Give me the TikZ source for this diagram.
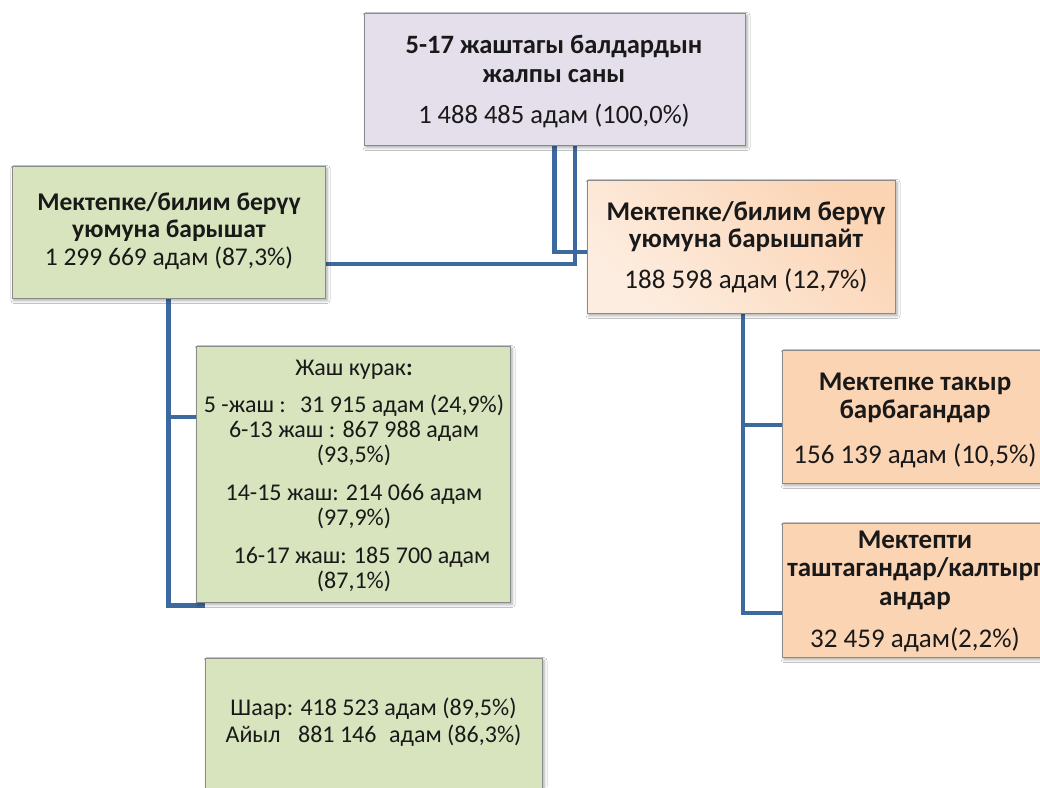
\documentclass[tikz,border=0pt]{standalone}
\usepackage{fontspec}
\setmainfont{Carlito}
\usetikzlibrary{shadows.blur,backgrounds}
\definecolor{lav}{HTML}{E5DFEC}
\definecolor{grn}{HTML}{D7E4BD}
\definecolor{orl}{HTML}{FDEDE0}
\definecolor{ord}{HTML}{FBD4B4}
\definecolor{connc}{HTML}{3D6A9E}
\definecolor{bord}{HTML}{8A8A8A}
\begin{document}
\begin{tikzpicture}[x=1pt,y=-1pt,
 box/.style={draw=bord, line width=0.8pt, inner sep=0pt,
   blur shadow={shadow xshift=2pt,shadow yshift=-2.5pt,shadow blur radius=3pt,shadow opacity=35}},
 connline/.style={draw=connc, line width=4.5pt},
 txt/.style={anchor=base, align=flush center, inner sep=0pt, text width=420pt, text=black!90}
]
\clip (0,0) rectangle (1040,787);
% boxes
\node[box, fill=lav, minimum width=381pt, minimum height=132pt] (top) at (554.5,79) {};
\node[box, fill=grn, minimum width=313pt, minimum height=132pt] (g1) at (168.5,232) {};
\node[box, top color=ord, bottom color=orl, shading angle=-45, minimum width=308pt, minimum height=133pt] (o1) at (741,246.5) {};
\node[box, fill=grn, minimum width=314pt, minimum height=256pt] (g2) at (353,474) {};
\node[box, fill=ord, minimum width=266pt, minimum height=133pt] (o3) at (915,416.5) {};
\node[box, fill=ord, minimum width=266pt, minimum height=134pt] (o4) at (915,590) {};
\node[box, fill=grn, minimum width=337pt, minimum height=160pt] (g3) at (373.5,738) {};
% connectors
\begin{scope}[on background layer]
\fill[white] (0,0) rectangle (1040,787);
\draw[connline] (top.south) |- ([yshift=-5.5pt]o1.west);
\draw[connline] ([xshift=20.5pt]top.south) |- ([yshift=-32pt]g1.east);
\draw[connline] (g1.south) |- ([yshift=57pt]g2.west);
\draw[connline] (g1.south) |- ([xshift=9pt,yshift=-3pt]g2.south west);
\draw[connline] ([xshift=2pt]o1.south) |- ([yshift=-8.5pt]o3.west);
\draw[connline] ([xshift=2pt]o1.south) |- ([yshift=-23pt]o4.west);
\end{scope}
% texts
\node[txt, font=\fontsize{26.5}{29}\selectfont] (t1) at (554,53)
 {\textbf{5-17 жаштагы балдардын}\\\textbf{жалпы саны}\\[12pt]1 488 485 адам (100,0\%)};
\node[txt, font=\fontsize{25.5}{27.5}\selectfont] (t2) at (169,210)
 {\textbf{Мектепке/билим берүү}\\\textbf{уюмуна барышат}\\1 299 669 адам (87,3\%)};
\node[txt, font=\fontsize{27}{27}\selectfont] (t3) at (746,220)
 {\textbf{Мектепке/билим берүү}\\\textbf{уюмуна барышпайт}\\[14pt]188 598 адам (12,7\%)};
\node[txt, font=\fontsize{24}{25}\selectfont] (t4) at (354,375)
 {Жаш курак\textbf{:}\\[12pt]5 -жаш :\hspace{0.6em}31 915 адам (24,9\%)\\6-13 жаш : 867 988 адам\\(93,5\%)\\[13pt]14-15 жаш: 214 066 адам\\(97,9\%)\\[13pt]\hspace{16pt}16-17 жаш: 185 700 адам\\(87,1\%)};
\node[txt, font=\fontsize{27}{28}\selectfont] (t5) at (915,390)
 {\textbf{Мектепке такыр}\\\textbf{барбагандар}\\[17pt]156 139 адам (10,5\%)};
\node[txt, font=\fontsize{27}{28.5}\selectfont] (t6) at (915,548)
 {\textbf{Мектепти}\\\textbf{таштагандар/калтырг}\\\textbf{андар}\\[13.5pt]32 459 адам(2,2\%)};
\node[txt, font=\fontsize{24}{27}\selectfont] (t7) at (373.5,715)
 {Шаар: 418 523 адам (89,5\%)\\Айыл\hspace{0.5em} 881 146\hspace{0.3em} адам (86,3\%)};
\end{tikzpicture}
\end{document}
